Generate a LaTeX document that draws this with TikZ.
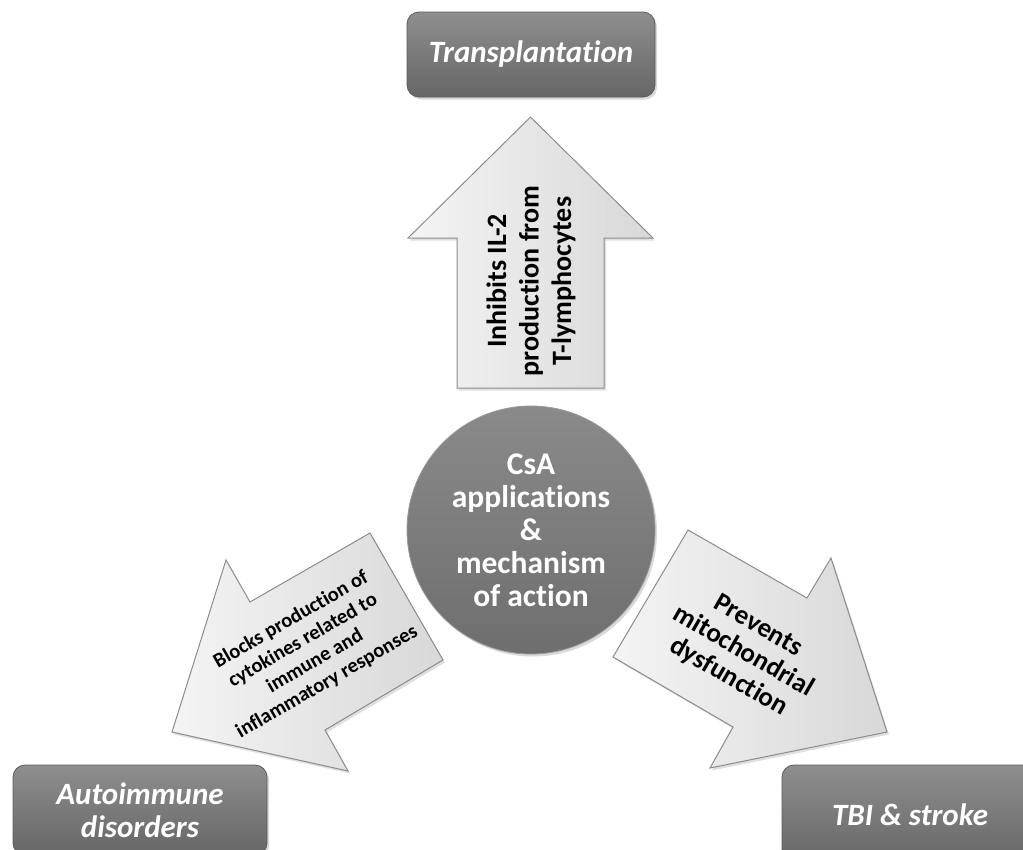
\documentclass[tikz,border=0pt]{standalone}
\usepackage{fontspec}
\setmainfont[Ligatures=CommonOff]{Carlito}
\usetikzlibrary{shadows}
\definecolor{boxtop}{HTML}{8E8E8E}
\definecolor{boxbot}{HTML}{666666}
\definecolor{boxedge}{HTML}{5C5C5C}
\definecolor{circtop}{HTML}{8A8A8A}
\definecolor{circbot}{HTML}{6E6E6E}
\definecolor{circedge}{HTML}{9A9A9A}
\definecolor{arrowL}{HTML}{F4F4F4}
\definecolor{arrowR}{HTML}{D8D8D8}
\definecolor{arrowedge}{HTML}{8C8C8C}
\begin{document}
\begin{tikzpicture}[x=1pt,y=-1pt,
  catbox/.style={rectangle, rounded corners=12pt, draw=boxedge, line width=0.8pt,
    top color=boxtop, bottom color=boxbot, text=white, align=center, inner sep=0pt,
    font=\fontsize{31}{33}\selectfont\bfseries\itshape,
    drop shadow={opacity=.3, shadow xshift=2pt, shadow yshift=-2.5pt}},
  hub/.style={circle, draw=circedge, line width=0.8pt, top color=circtop, bottom color=circbot,
    text=white, align=center, inner sep=0pt, minimum size=248pt,
    font=\fontsize{31.5}{33}\selectfont\bfseries,
    drop shadow={opacity=.3, shadow xshift=2pt, shadow yshift=-2.5pt}},
  blockarrow/.style={draw=arrowedge, line width=1pt, left color=arrowL, right color=arrowR,
    drop shadow={opacity=.25, shadow xshift=2pt, shadow yshift=-2.5pt}},
  arrowtext/.style={align=center, text=black, inner sep=0pt}
]
\useasboundingbox (0,0) rectangle (1023,849);
\clip (0,0) rectangle (1023,849);

% category boxes
\node[catbox, minimum width=248pt, minimum height=85pt] (transp) at (531,54.5) {Transplantation};
\node[catbox, minimum width=254pt, minimum height=90pt] (autoimm) at (140,810) {Autoimmune\\disorders};
\node[catbox, minimum width=256pt, minimum height=100pt] (tbi) at (910,815) {TBI \& stroke};

% arrow key points
\coordinate (upTip) at (530.5,117);
\coordinate (leftTip) at (172,732);
\coordinate (rightTip) at (887,732);

% up arrow
\path[blockarrow] (457,388) -- (457,238) -- (408,238) -- (upTip) -- (653,238) -- (604,238) -- (604,388) -- cycle;
% left arrow
\path[blockarrow] (370,533) -- (250,602) -- (226,560) -- (leftTip) -- (348,771) -- (325,730) -- (443,660) -- cycle;
% right arrow
\path[blockarrow] (688,530) -- (807,598) -- (831,558) -- (rightTip) -- (710,768) -- (733,727) -- (613,657) -- cycle;

% hub
\node[hub] (csa) at (531,530) {CsA\\applications\\\&\\mechanism\\of action};

% arrow texts
\node[arrowtext, rotate=90, font=\fontsize{28}{32.5}\selectfont\bfseries] (t1) at (531,281)
  {Inhibits IL-2\\production from\\T-lymphocytes};
\node[arrowtext, rotate=30, font=\fontsize{20.5}{24}\selectfont\bfseries] (t2) at (309,651)
  {Blocks production of\\cytokines related to\\immune and\\inflammatory responses};
\node[arrowtext, rotate=-30, font=\fontsize{27}{29.5}\selectfont\bfseries] (t3) at (743,652)
  {Prevents\\mitochondrial\\dysfunction};
\end{tikzpicture}
\end{document}
